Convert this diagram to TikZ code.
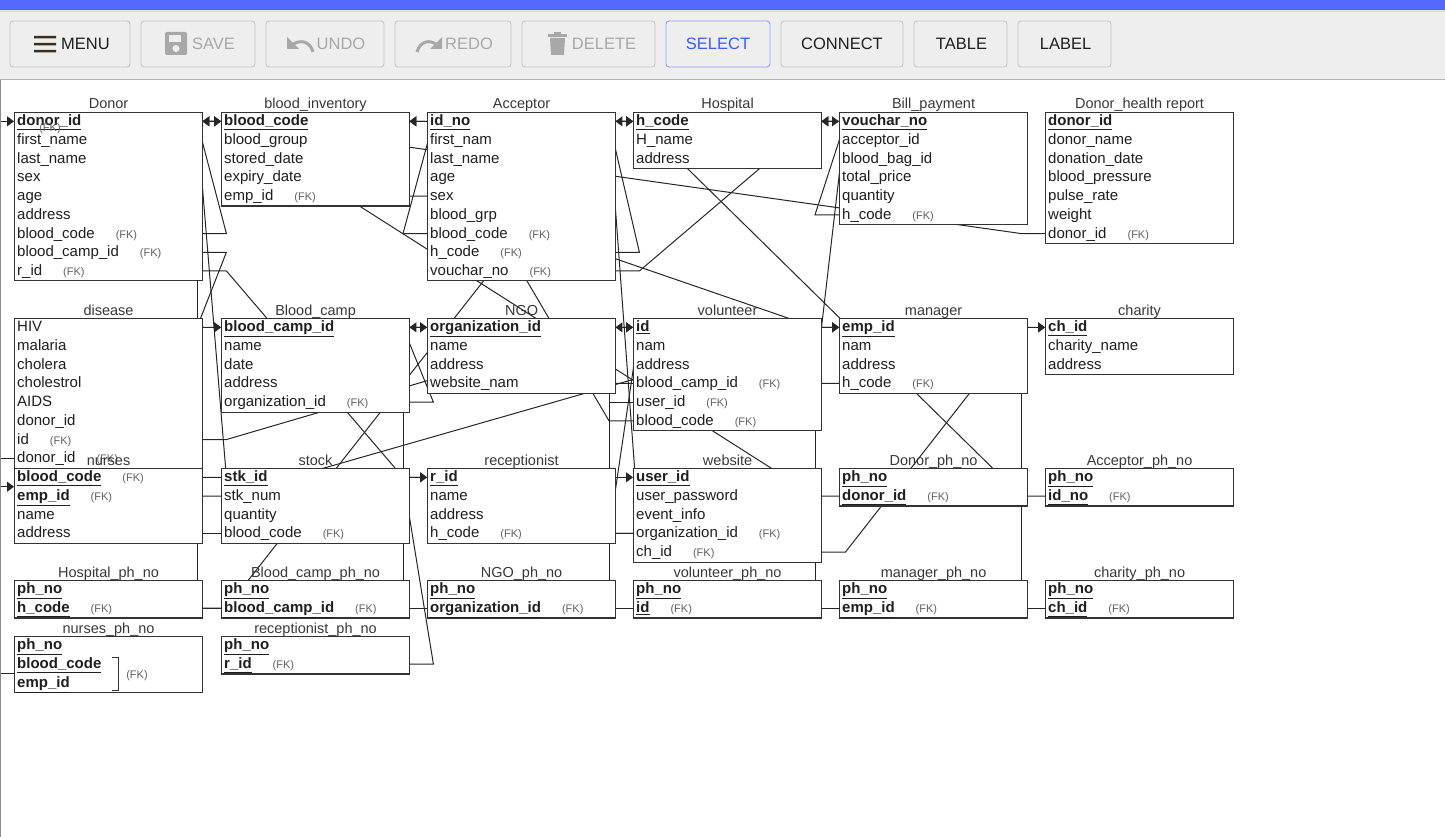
\documentclass[tikz,border=0pt]{standalone}
\usepackage{fontspec}
\setmainfont{Liberation Sans}
\usepackage{tikz}
\usetikzlibrary{positioning, arrows.meta, calc, backgrounds}

\definecolor{topbar}{HTML}{5468FF}
\definecolor{barbg}{HTML}{EEEEEE}
\definecolor{btnline}{HTML}{C4C4C4}
\definecolor{selblue}{HTML}{3D5AFE}
\definecolor{offgray}{HTML}{A8A8A8}
\definecolor{inkbrown}{HTML}{3A2E22}

\newcommand{\pkey}[1]{\underline{\textbf{#1}}}
\newcommand{\fkey}{\hspace{21pt}{\fontsize{11}{11}\selectfont\color{black!62}(FK)}}

% one table: name, x, y, number of rows, title, fields
\newcommand{\ertable}[6]{%
  \node[tbl, minimum height=#4*18.7pt] (#1) at (#2,#3) {};
  \node[ttl] (#1-t) at ([yshift=3pt]#1.north) {#5};
  \foreach \ftext [count=\i] in {#6}
    \node[fld] (#1-\i) at ([yshift={-(\i-0.5)*18.7pt}]#1.north west) {\ftext};
}

\begin{document}
\begin{tikzpicture}[
        x=1pt, y=-1pt,
        tbl/.style={draw=black!80, line width=1.1pt, fill=white, anchor=north west, minimum width=188pt, inner sep=0pt},
        ttl/.style={anchor=base, inner sep=0pt, font=\fontsize{14.5}{15}\selectfont, text=black!78},
        fld/.style={anchor=west, inner xsep=3pt, inner ysep=0pt, text width=182pt, align=left, text height=11.5pt, text depth=2.5pt, font=\fontsize{15}{16}\selectfont, text=black!88},
        fktag/.style={inner sep=0pt, font=\fontsize{11}{11}\selectfont, text=black!62},
        btn/.style={draw=btnline, fill=barbg, rounded corners=3pt, minimum height=46pt, inner sep=0pt, line width=0.9pt},
        btntxt/.style={inner sep=0pt, font=\fontsize{16.5}{17}\selectfont, text=black!88},
        link/.style={line width=1pt, draw=black!85},
        arrow/.style={link, -{Triangle[length=7pt, width=10pt]}}
    ]
    \useasboundingbox (0,0) rectangle (1445,837);

    % Toolbar
    \fill[topbar] (0,0) rectangle (1445,10);
    \fill[barbg] (0,10) rectangle (1445,79);
    \fill[black!12] (0,10) rectangle (1445,12);
    \draw[black!30] (0,79.5) -- (1445,79.5);
    \draw[black!45, line width=1pt] (0.5,80) -- (0.5,837);

    \node[btn, minimum width=120pt] (menu) at (70,44) {};
    \node[btn, minimum width=114pt] (save) at (198,44) {};
    \node[btn, minimum width=118pt] (undo) at (325,44) {};
    \node[btn, minimum width=116pt] (redo) at (453,44) {};
    \node[btn, minimum width=133pt] (delete) at (588.5,44) {};
    \node[btn, minimum width=104pt, draw=selblue!60] (select) at (718,44) {};
    \node[btn, minimum width=122pt] (connect) at (842,44) {};
    \node[btn, minimum width=93pt] (table) at (960.5,44) {};
    \node[btn, minimum width=93pt] (label) at (1064.5,44) {};

    \node[btntxt] (menu-l) at (85.5,44) {MENU};
    \node[btntxt, text=offgray] (save-l) at (213.5,44) {SAVE};
    \node[btntxt, text=offgray] (undo-l) at (341,44) {UNDO};
    \node[btntxt, text=offgray] (redo-l) at (469,44) {REDO};
    \node[btntxt, text=offgray] (delete-l) at (604,44) {DELETE};
    \node[btntxt, text=selblue] (select-l) at (718,44) {SELECT};
    \node[btntxt] (connect-l) at (842,44) {CONNECT};
    \node[btntxt] (table-l) at (961.5,44) {TABLE};
    \node[btntxt] (label-l) at (1065.5,44) {LABEL};

    % icons
    \fill[inkbrown] (34,36) rectangle (56,38.5) (34,43) rectangle (56,45.5) (34,50) rectangle (56,52.5);
    \fill[offgray, rounded corners=2pt] (165,32) rectangle (187,55);
    \fill[barbg] (169,35) rectangle (181,42);
    \fill[barbg] (176,48.5) circle (3.5);
    \draw[offgray, line width=3pt] (313,52) .. controls (310,41) and (300,39) .. (292,45);
    \fill[offgray] (287,37) -- (287,49) -- (299,49) -- cycle;
    \draw[offgray, line width=3pt] (417,52) .. controls (420,41) and (430,39) .. (437,45);
    \fill[offgray] (442,37) -- (442,49) -- (430,49) -- cycle;
    \fill[offgray] (550,38) -- (565,38) -- (564,55) -- (551,55) -- cycle;
    \fill[offgray] (548,34) rectangle (567,37);
    \fill[offgray] (554,32) rectangle (561,34.5);

    % Define tables
    \ertable{donor}{14}{112}{9}{Donor}{\pkey{donor\_id}, first\_name, last\_name, sex, age, address, blood\_code\fkey, blood\_camp\_id\fkey, r\_id\fkey}
    \ertable{inv}{221}{112}{5}{blood\_inventory}{\pkey{blood\_code}, blood\_group, stored\_date, expiry\_date, emp\_id\fkey}
    \ertable{acc}{427}{112}{9}{Acceptor}{\pkey{id\_no}, first\_nam, last\_name, age, sex, blood\_grp, blood\_code\fkey, h\_code\fkey, vouchar\_no\fkey}
    \ertable{hosp}{633}{112}{3}{Hospital}{\pkey{h\_code}, H\_name, address}
    \ertable{bill}{839}{112}{6}{Bill\_payment}{\pkey{vouchar\_no}, acceptor\_id, blood\_bag\_id, total\_price, quantity, h\_code\fkey}
    \ertable{dhr}{1045}{112}{7}{Donor\_health report}{\pkey{donor\_id}, donor\_name, donation\_date, blood\_pressure, pulse\_rate, weight, donor\_id\fkey}

    \ertable{dis}{14}{318}{8}{disease}{HIV, malaria, cholera, cholestrol, AIDS, donor\_id, id\fkey, donor\_id\fkey}
    \ertable{camp}{221}{318}{5}{Blood\_camp}{\pkey{blood\_camp\_id}, name, date, address, organization\_id\fkey}
    \ertable{ngo}{427}{318}{4}{NGO}{\pkey{organization\_id}, name, address, website\_nam}
    \ertable{vol}{633}{318}{6}{volunteer}{\pkey{id}, nam, address, blood\_camp\_id\fkey, user\_id\fkey, blood\_code\fkey}
    \ertable{man}{839}{318}{4}{manager}{\pkey{emp\_id}, nam, address, h\_code\fkey}
    \ertable{char}{1045}{318}{3}{charity}{\pkey{ch\_id}, charity\_name, address}

    \ertable{nur}{14}{468}{4}{nurses}{\pkey{blood\_code}\fkey, \pkey{emp\_id}\fkey, name, address}
    \ertable{stock}{221}{468}{4}{stock}{\pkey{stk\_id}, stk\_num, quantity, blood\_code\fkey}
    \ertable{rec}{427}{468}{4}{receptionist}{\pkey{r\_id}, name, address, h\_code\fkey}
    \ertable{web}{633}{468}{5}{website}{\pkey{user\_id}, user\_password, event\_info, organization\_id\fkey, ch\_id\fkey}
    \ertable{dph}{839}{468}{2}{Donor\_ph\_no}{\pkey{ph\_no}, \pkey{donor\_id}\fkey}
    \ertable{aph}{1045}{468}{2}{Acceptor\_ph\_no}{\pkey{ph\_no}, \pkey{id\_no}\fkey}

    \ertable{hph}{14}{580}{2}{Hospital\_ph\_no}{\pkey{ph\_no}, \pkey{h\_code}\fkey}
    \ertable{cph}{221}{580}{2}{Blood\_camp\_ph\_no}{\pkey{ph\_no}, \pkey{blood\_camp\_id}\fkey}
    \ertable{nph}{427}{580}{2}{NGO\_ph\_no}{\pkey{ph\_no}, \pkey{organization\_id}\fkey}
    \ertable{vph}{633}{580}{2}{volunteer\_ph\_no}{\pkey{ph\_no}, \pkey{id}\fkey}
    \ertable{mph}{839}{580}{2}{manager\_ph\_no}{\pkey{ph\_no}, \pkey{emp\_id}\fkey}
    \ertable{chph}{1045}{580}{2}{charity\_ph\_no}{\pkey{ph\_no}, \pkey{ch\_id}\fkey}

    \ertable{nuph}{14}{636}{3}{nurses\_ph\_no}{\pkey{ph\_no}, \pkey{blood\_code}, \pkey{emp\_id}}
    \ertable{rph}{221}{636}{2}{receptionist\_ph\_no}{\pkey{ph\_no}, \pkey{r\_id}\fkey}

    \node[fktag] (donor-fk) at (50,129) {(FK)};
    \draw[black!80, line width=1pt] (112,657) -- (118,657) -- (118,690) -- (112,690);
    \node[fktag] (nuph-fk) at (137,676) {(FK)};
    \coordinate (nur-key) at ($(nur-1.west)!.5!(nur-2.west)$);
    \coordinate (nuph-key) at ($(nuph-2.west)!.5!(nuph-3.west)$);

    % Draw links under the tables
    \begin{scope}[on background layer]
        \clip (0,80) rectangle (1445,837);
        \draw [arrow] (donor-7.east) -- ++(24,0) -- ([xshift=-24pt]inv-1.west) -- (inv-1.west);
        \draw [arrow] (donor-8.east) -- ++(24,0) -- ([xshift=-24pt]camp-1.west) -- (camp-1.west);
        \draw [arrow] (donor-9.east) -- ++(24,0) -- ([xshift=-24pt]rec-1.west) -- (rec-1.west);
        \draw [arrow] (inv-5.east) -- ++(24,0) -- ([xshift=-24pt]man-1.west) -- (man-1.west);
        \draw [arrow] (acc-7.west) -- ++(-24,0) -- ([xshift=24pt]inv-1.east) -- (inv-1.east);
        \draw [arrow] (acc-8.east) -- ++(24,0) -- ([xshift=-24pt]hosp-1.west) -- (hosp-1.west);
        \draw [arrow] (acc-9.east) -- ++(24,0) -- ([xshift=-24pt]bill-1.west) -- (bill-1.west);
        \draw [arrow] (bill-6.west) -- ++(-24,0) -- ([xshift=24pt]hosp-1.east) -- (hosp-1.east);
        \draw [arrow] (dhr-7.west) -- ++(-24,0) -- ([xshift=24pt]donor-1.east) -- (donor-1.east);
        \draw [arrow] (dis-7.east) -- ++(24,0) -- ([xshift=-24pt]vol-1.west) -- (vol-1.west);
        \draw [arrow] (dis-8.west) -- ++(-24,0) -- ([xshift=-24pt]donor-1.west) -- (donor-1.west);
        \draw [arrow] (nur-1.east) -- ++(24,0) -- ([xshift=-24pt]inv-1.west) -- (inv-1.west);
        \draw [arrow] (nur-2.east) -- ++(24,0) -- ([xshift=-24pt]man-1.west) -- (man-1.west);
        \draw [arrow] (camp-5.east) -- ++(24,0) -- ([xshift=-24pt]ngo-1.west) -- (ngo-1.west);
        \draw [arrow] (vol-4.west) -- ++(-24,0) -- ([xshift=24pt]camp-1.east) -- (camp-1.east);
        \draw [arrow] (vol-5.west) -- ++(-24,0) -- ([xshift=-24pt]web-1.west) -- (web-1.west);
        \draw [arrow] (vol-6.west) -- ++(-24,0) -- ([xshift=24pt]inv-1.east) -- (inv-1.east);
        \draw [arrow] (web-4.west) -- ++(-24,0) -- ([xshift=24pt]ngo-1.east) -- (ngo-1.east);
        \draw [arrow] (web-5.east) -- ++(24,0) -- ([xshift=-24pt]char-1.west) -- (char-1.west);
        \draw [arrow] (man-4.west) -- ++(-24,0) -- ([xshift=24pt]hosp-1.east) -- (hosp-1.east);
        \draw [arrow] (stock-4.west) -- ++(-24,0) -- ([xshift=-24pt]inv-1.west) -- (inv-1.west);
        \draw [arrow] (rec-4.east) -- ++(24,0) -- ([xshift=-24pt]hosp-1.west) -- (hosp-1.west);
        \draw [arrow] (dph-2.west) -- ++(-24,0) -- ([xshift=24pt]donor-1.east) -- (donor-1.east);
        \draw [arrow] (aph-2.west) -- ++(-24,0) -- ([xshift=24pt]acc-1.east) -- (acc-1.east);
        \draw [arrow] (hph-2.east) -- ++(24,0) -- ([xshift=-24pt]hosp-1.west) -- (hosp-1.west);
        \draw [arrow] (cph-2.west) -- ++(-24,0) -- ([xshift=-24pt]camp-1.west) -- (camp-1.west);
        \draw [arrow] (nph-2.west) -- ++(-24,0) -- ([xshift=-24pt]ngo-1.west) -- (ngo-1.west);
        \draw [arrow] (vph-2.west) -- ++(-24,0) -- ([xshift=-24pt]vol-1.west) -- (vol-1.west);
        \draw [arrow] (mph-2.west) -- ++(-24,0) -- ([xshift=-24pt]man-1.west) -- (man-1.west);
        \draw [arrow] (chph-2.west) -- ++(-24,0) -- ([xshift=-24pt]char-1.west) -- (char-1.west);
        \draw [arrow] (nuph-key) -- ++(-24,0) -- ([xshift=-24pt]nur-key) -- (nur-key);
        \draw [arrow] (rph-2.east) -- ++(24,0) -- ([xshift=-24pt]rec-1.west) -- (rec-1.west);
    \end{scope}
\end{tikzpicture}
\end{document}
